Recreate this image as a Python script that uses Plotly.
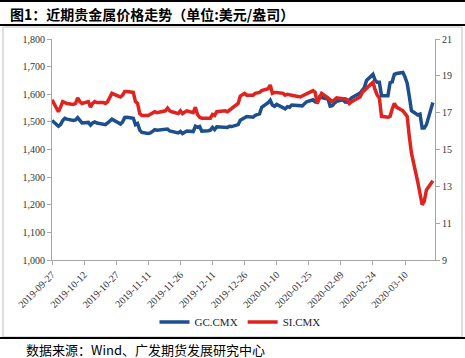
import plotly.graph_objects as go

dates = [
    "2019-09-27", "2019-09-30", "2019-10-01", "2019-10-02", "2019-10-03", "2019-10-04",
    "2019-10-07", "2019-10-08", "2019-10-09", "2019-10-10", "2019-10-11",
    "2019-10-14", "2019-10-15", "2019-10-16", "2019-10-17", "2019-10-18",
    "2019-10-21", "2019-10-22", "2019-10-23", "2019-10-24", "2019-10-25",
    "2019-10-28", "2019-10-29", "2019-10-30", "2019-10-31", "2019-11-01",
    "2019-11-04", "2019-11-05", "2019-11-06", "2019-11-07", "2019-11-08",
    "2019-11-11", "2019-11-12", "2019-11-13", "2019-11-14", "2019-11-15",
    "2019-11-18", "2019-11-19", "2019-11-20", "2019-11-21", "2019-11-22",
    "2019-11-25", "2019-11-26", "2019-11-27", "2019-11-29",
    "2019-12-02", "2019-12-03", "2019-12-04", "2019-12-05", "2019-12-06",
    "2019-12-09", "2019-12-10", "2019-12-11", "2019-12-12", "2019-12-13",
    "2019-12-16", "2019-12-17", "2019-12-18", "2019-12-19", "2019-12-20",
    "2019-12-23", "2019-12-24", "2019-12-26", "2019-12-27",
    "2019-12-30", "2019-12-31", "2020-01-02", "2020-01-03",
    "2020-01-06", "2020-01-07", "2020-01-08", "2020-01-09", "2020-01-10",
    "2020-01-13", "2020-01-14", "2020-01-15", "2020-01-16", "2020-01-17",
    "2020-01-21", "2020-01-22", "2020-01-23", "2020-01-24",
    "2020-01-27", "2020-01-28", "2020-01-29", "2020-01-30", "2020-01-31",
    "2020-02-03", "2020-02-04", "2020-02-05", "2020-02-06", "2020-02-07",
    "2020-02-10", "2020-02-11", "2020-02-12", "2020-02-13", "2020-02-14",
    "2020-02-18", "2020-02-19", "2020-02-20", "2020-02-21",
    "2020-02-24", "2020-02-25", "2020-02-26", "2020-02-27", "2020-02-28",
    "2020-03-02", "2020-03-03", "2020-03-04", "2020-03-05", "2020-03-06",
    "2020-03-09", "2020-03-10", "2020-03-11", "2020-03-12", "2020-03-13",
    "2020-03-16", "2020-03-17", "2020-03-18", "2020-03-19", "2020-03-20",
    "2020-03-23",
]

gold = [
    1505, 1484, 1490, 1505, 1513, 1510,
    1505, 1507, 1515, 1505, 1496,
    1498, 1488, 1496, 1500, 1496,
    1492, 1490, 1496, 1505, 1510,
    1497, 1492, 1500, 1516, 1517,
    1513, 1490, 1494, 1470, 1462,
    1458, 1460, 1466, 1472, 1470,
    1473, 1475, 1474, 1467, 1465,
    1460, 1465, 1458, 1467,
    1465, 1484, 1480, 1483, 1466,
    1468, 1470, 1480, 1472, 1482,
    1481, 1481, 1480, 1484, 1483,
    1490, 1506, 1515, 1519,
    1517, 1524, 1529, 1553,
    1569, 1578, 1561, 1556, 1563,
    1550, 1547, 1555, 1553, 1561,
    1559, 1558, 1566, 1573,
    1580, 1572, 1570, 1590, 1588,
    1583, 1557, 1559, 1568, 1574,
    1580, 1572, 1571, 1580, 1587,
    1604, 1613, 1624, 1650,
    1672, 1651, 1643, 1643, 1595,
    1595, 1642, 1645, 1672, 1675,
    1679, 1662, 1640, 1592, 1540,
    1525, 1528, 1478, 1478, 1490,
    1570,
]

silver = [
    17.70, 17.05, 17.30, 17.60, 17.55, 17.50,
    17.45, 17.50, 17.80, 17.60, 17.50,
    17.60, 17.30, 17.50, 17.60, 17.55,
    17.55, 17.50, 17.60, 17.80, 18.05,
    17.90, 17.85, 17.95, 18.15, 18.15,
    18.10, 17.60, 17.50, 16.95, 16.85,
    16.85, 16.90, 16.95, 17.05, 17.00,
    17.05, 17.10, 17.25, 17.10, 17.05,
    16.95, 17.10, 16.95, 17.10,
    17.00, 17.30, 16.90, 16.75, 16.70,
    16.70, 16.70, 16.90, 16.85, 17.05,
    17.10, 17.10, 17.05, 17.15, 17.20,
    17.50, 17.90, 18.05, 17.95,
    17.95, 18.05, 18.10, 18.20,
    18.30, 18.50, 18.05, 18.10, 18.10,
    18.05, 17.95, 18.00, 17.95, 17.95,
    17.85, 17.90, 18.00, 18.05,
    18.20, 18.10, 17.50, 17.80, 18.05,
    17.80, 17.70, 17.60, 17.70, 17.80,
    17.75, 17.75, 17.70, 17.50, 17.60,
    17.85, 18.10, 18.20, 18.35,
    18.65, 18.25, 17.95, 17.80, 16.80,
    16.75, 16.80, 17.20, 17.50, 17.30,
    17.10, 16.95, 16.80, 15.70, 14.80,
    13.20, 12.70, 12.00, 12.20, 12.80,
    13.30,
]

left_ticks = [1000, 1100, 1200, 1300, 1400, 1500, 1600, 1700, 1800]
left_labels = ["1,000", "1,100", "1,200", "1,300", "1,400", "1,500", "1,600", "1,700", "1,800"]
right_ticks = [9, 11, 13, 15, 17, 19, 21]

title_text = "<b>图1：近期贵金属价格走势（单位:美元/盎司）</b>"
source_text = "数据来源：Wind、广发期货发展研究中心"

BLUE = "#1D4F8E"
RED = "#E0231E"
SERIF = "Liberation Serif, Times New Roman, serif"
CJK = "Noto Sans CJK SC, sans-serif"

fig = go.Figure()
fig.add_trace(go.Scatter(x=dates, y=gold, name="GC.CMX", mode="lines",
                         line=dict(color=BLUE, width=3.5), yaxis="y"))
fig.add_trace(go.Scatter(x=dates, y=silver, name="SI.CMX", mode="lines",
                         line=dict(color=RED, width=3.5), yaxis="y2"))

W, H = 465, 358
L, R, T, B = 52, 435, 39, 260

def px(x):
    return (x - L) / (R - L)

def py(y):
    return (B - y) / (B - T)

fig.update_layout(
    width=W, height=H,
    margin=dict(l=L, r=W - R, t=T, b=H - B),
    paper_bgcolor="white", plot_bgcolor="white",
    showlegend=True,
    legend=dict(orientation="h", x=px(240), y=py(322), xanchor="center", yanchor="middle",
                font=dict(family=SERIF, size=11, color="#222"),
                itemwidth=30, tracegroupgap=0, bgcolor="rgba(0,0,0,0)"),
    xaxis=dict(type="date", range=["2019-09-27", "2020-03-24"],
               tick0="2019-09-27", dtick=15 * 86400000, tickformat="%Y-%m-%d",
               tickangle=-45, showgrid=False, zeroline=False,
               showline=True, linecolor="#A6A6A6", linewidth=1,
               ticks="outside", ticklen=4, tickcolor="#A6A6A6",
               tickfont=dict(family=SERIF, size=10, color="#333")),
    yaxis=dict(range=[1000, 1800], tickvals=left_ticks, ticktext=left_labels,
               showgrid=False, zeroline=False, showline=True, linecolor="#A6A6A6",
               ticks="outside", ticklen=4, tickcolor="#A6A6A6",
               tickfont=dict(family=SERIF, size=10, color="#333")),
    yaxis2=dict(range=[9, 21], tickvals=right_ticks, overlaying="y", side="right",
                showgrid=False, zeroline=False, showline=True, linecolor="#A6A6A6",
                ticks="outside", ticklen=4, tickcolor="#A6A6A6",
                tickfont=dict(family=SERIF, size=10, color="#333")),
)

# frame lines
fig.add_shape(type="line", xref="paper", yref="paper", x0=px(0), x1=px(W), y0=py(1), y1=py(1),
              line=dict(color="black", width=2))
fig.add_shape(type="line", xref="paper", yref="paper", x0=px(0), x1=px(W), y0=py(25), y1=py(25),
              line=dict(color="black", width=2))
fig.add_shape(type="rect", xref="paper", yref="paper", x0=px(3), x1=px(462), y0=py(27), y1=py(337),
              line=dict(color="#BFBFBF", width=1))
fig.add_shape(type="line", xref="paper", yref="paper", x0=px(0), x1=px(W), y0=py(338), y1=py(338),
              line=dict(color="black", width=2))

fig.add_annotation(text=title_text, xref="paper", yref="paper", x=px(8), y=py(14),
                   xanchor="left", yanchor="middle", showarrow=False,
                   font=dict(family=CJK, size=14, color="black"))
fig.add_annotation(text=source_text, xref="paper", yref="paper", x=px(24), y=py(349),
                   xanchor="left", yanchor="middle", showarrow=False,
                   font=dict(family=CJK, size=13, color="black"))

fig.write_html("out.html", config={"displayModeBar": False},
               post_script="document.body.style.margin='0';document.body.style.overflow='hidden';")
